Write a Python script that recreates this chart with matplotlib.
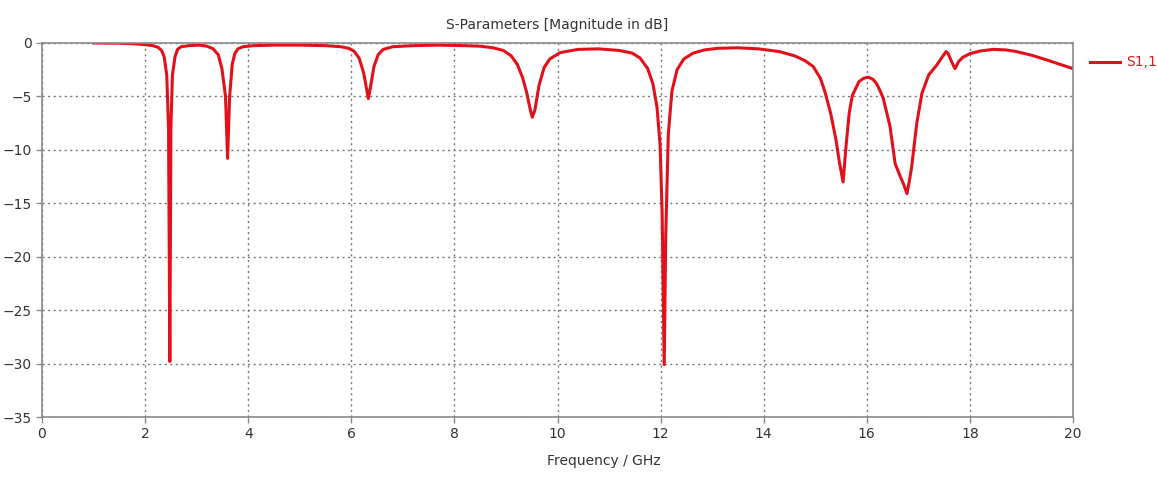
import matplotlib.pyplot as plt

# S11 (GHz, dB)
freq = [1.0, 1.5, 1.8, 2.0, 2.15, 2.25, 2.32, 2.37, 2.42, 2.455, 2.48, 2.5, 2.53, 2.58, 2.63, 2.7, 2.85,
        3.05, 3.2, 3.32, 3.42, 3.49, 3.56, 3.6, 3.64, 3.69, 3.74, 3.8, 3.9, 4.1, 4.5, 5.0, 5.5,
        5.8, 5.95, 6.05, 6.15, 6.24, 6.3, 6.33, 6.37, 6.44, 6.52, 6.62, 6.8, 7.2, 7.7, 8.2,
        8.5, 8.75, 8.95, 9.1, 9.22, 9.32, 9.4, 9.47, 9.51, 9.56, 9.64, 9.74, 9.85, 10.05, 10.4,
        10.8, 11.2, 11.45, 11.6, 11.75, 11.85, 11.93, 11.99, 12.03, 12.07, 12.1, 12.15, 12.22,
        12.32, 12.45, 12.63, 12.85, 13.1, 13.5, 13.9, 14.3, 14.6, 14.8, 14.96, 15.1, 15.19,
        15.3, 15.4, 15.47, 15.54, 15.6, 15.66, 15.72, 15.85, 15.94, 16.03, 16.12, 16.19,
        16.26, 16.32, 16.45, 16.55, 16.65, 16.72, 16.78, 16.83, 16.87, 16.97, 17.07, 17.2,
        17.36, 17.45, 17.54, 17.58, 17.65, 17.71, 17.78, 17.86, 18.0, 18.2, 18.45, 18.7,
        18.9, 19.2, 19.5, 19.75, 20.0]
s11 = [0.0, -0.02, -0.08, -0.15, -0.25, -0.4, -0.7, -1.3, -3.0, -8.0, -29.8, -8.0, -3.0, -1.3, -0.6, -0.35, -0.25,
       -0.2, -0.3, -0.55, -1.1, -2.4, -5.0, -10.8, -5.0, -2.0, -1.0, -0.55, -0.35, -0.25, -0.2, -0.2, -0.25,
       -0.35, -0.5, -0.75, -1.4, -2.8, -4.4, -5.2, -4.2, -2.2, -1.1, -0.6, -0.35, -0.25, -0.2, -0.25,
       -0.3, -0.45, -0.7, -1.2, -2.0, -3.2, -4.6, -6.2, -6.95, -6.3, -4.0, -2.3, -1.5, -0.9, -0.6,
       -0.55, -0.7, -0.95, -1.4, -2.4, -3.8, -6.0, -9.5, -16.0, -30.1, -18.0, -8.5, -4.5,
       -2.5, -1.5, -0.95, -0.65, -0.5, -0.45, -0.55, -0.8, -1.2, -1.65, -2.2, -3.3, -4.6,
       -6.6, -9.0, -11.2, -13.0, -9.5, -6.5, -4.9, -3.6, -3.3, -3.2, -3.4, -3.8,
       -4.5, -5.2, -7.8, -11.3, -12.5, -13.3, -14.1, -12.8, -11.6, -7.5, -4.7, -3.0,
       -2.05, -1.4, -0.8, -1.0, -1.8, -2.4, -1.75, -1.35, -1.0, -0.75, -0.6, -0.65,
       -0.8, -1.15, -1.6, -2.0, -2.4]

label = 'S1,1'

fig = plt.figure(figsize=(11.57, 4.83), dpi=100)
ax = fig.add_axes([0.0363, 0.1366, 0.8911, 0.7744])

ax.plot(freq, s11, color='#e3101a', linewidth=2.2, solid_joinstyle='round')

ax.set_xlim(0, 20)
ax.set_ylim(-35, 0)
ax.set_xticks(range(0, 21, 2))
ax.set_yticks(range(-35, 1, 5))
ax.grid(True, color='#777777', linestyle=(0, (1.5, 2.5)), linewidth=1.0)
for side in ['left', 'bottom', 'top', 'right']:
    ax.spines[side].set_color('#8a8a8a')
    ax.spines[side].set_linewidth(1.2)
ax.tick_params(colors='#8a8a8a', labelcolor='#333333', labelsize=10, length=4, width=1)

ax.set_title('S-Parameters [Magnitude in dB]', fontsize=10, color='#333333', pad=10)
ax.set_xlabel('Frequency / GHz', fontsize=10, color='#333333', labelpad=8)
ax.xaxis.set_label_coords(0.545, -0.1)

# legend entry to the right of the plot
fig.lines.append(plt.Line2D([0.942, 0.968], [0.872, 0.872], transform=fig.transFigure,
                            color='#e3101a', linewidth=2.2))
fig.text(0.973, 0.872, label, color='#cc2222', fontsize=10, va='center')

plt.savefig('out.png', dpi=100)
plt.close()
